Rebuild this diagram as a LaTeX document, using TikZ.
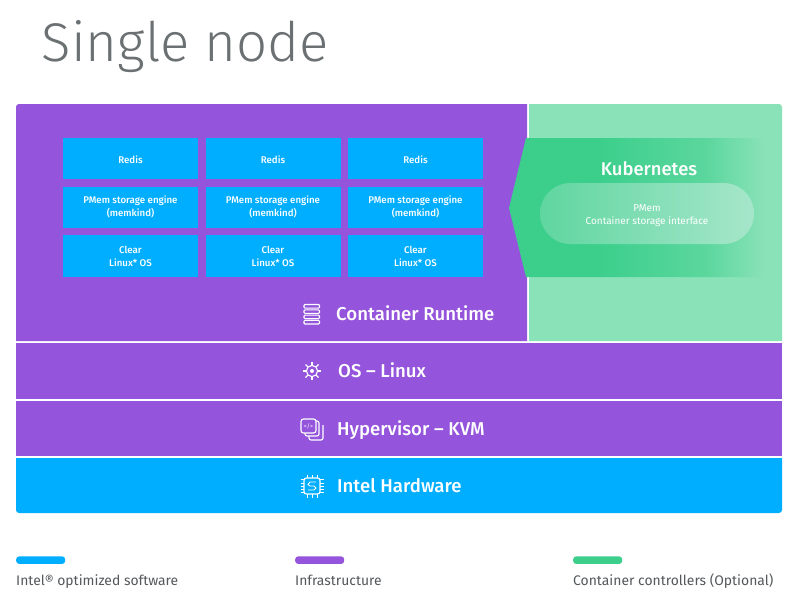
\documentclass[tikz,border=0pt]{standalone}
\usepackage{fontspec}
\setmainfont{Fira Sans}
\newfontfamily\titlefont[UprightFont=* Light]{Fira Sans}
\newfontfamily\medfont[UprightFont=* Medium]{Fira Sans}
\usetikzlibrary{calc}
\definecolor{purp}{HTML}{9454DB}
\definecolor{blu}{HTML}{00AEFF}
\definecolor{grn}{HTML}{3CCF8C}
\definecolor{lgrn}{HTML}{8AE2B8}
\definecolor{ptl}{HTML}{5FD6A0}
\definecolor{ptr}{HTML}{A6E6CA}
\definecolor{inkgrey}{HTML}{55595C}
\definecolor{titlegrey}{HTML}{6B7073}
\pgfdeclarehorizontalshading{arrowfade}{100bp}{color(0bp)=(grn); color(25bp)=(grn); color(42bp)=(grn); color(62bp)=(grn!60!lgrn); color(73bp)=(lgrn); color(100bp)=(lgrn)}
\pgfdeclarehorizontalshading{pillfade}{100bp}{color(0bp)=(ptl); color(25bp)=(ptl); color(75bp)=(ptr); color(100bp)=(ptr)}
\tikzset{
  appbox/.style={fill=blu,text=white,minimum width=135pt,minimum height=41.5pt,inner sep=0pt,align=center,font=\fontsize{9.7}{13}\selectfont\medfont},
  bandlabel/.style={text=white,inner sep=0pt,anchor=base west,font=\fontsize{18.6}{20}\selectfont\medfont},
  legbar/.style={rounded corners=3pt,minimum width=49pt,minimum height=7.5pt,inner sep=0pt,anchor=north west},
  legtext/.style={text=inkgrey,inner sep=0pt,anchor=base west,font=\fontsize{13.9}{15}\selectfont},
  icon/.style={draw=white,line width=1.1pt,fill=none},
}
\begin{document}
\begin{tikzpicture}[x=1pt,y=-1pt]
\useasboundingbox (0,0) rectangle (800,603);
\fill[white] (0,0) rectangle (800,603);
\node[inner sep=0pt,anchor=base west,text=titlegrey,font=\fontsize{54.5}{60}\selectfont\titlefont] (title) at (41.5,61) {Single node};
% bands
\fill[purp] (527,341) -- (16,341) [rounded corners=3pt] -- (16,104) [sharp corners] -- (527,104) -- cycle;
\fill[lgrn] (529,341) -- (529,104) [rounded corners=3pt] -- (782,104) [sharp corners] -- (782,341) -- cycle;
\fill[purp] (16,343) rectangle (782,399);
\fill[purp] (16,401) rectangle (782,456);
\fill[blu] (16,458) -- (782,458) [rounded corners=3pt] -- (782,513) -- (16,513) [sharp corners] -- cycle;
% app boxes
\foreach \c/\x in {a/130.5,b/273,c/415.5}{
  \node[appbox] (redis\c) at (\x,158.7) {\raisebox{-1.5pt}[7pt][0pt]{Redis}};
  \node[appbox] (pmem\c) at (\x,207.3) {PMem storage engine\\(memkind)};
  \node[appbox] (clear\c) at (\x,256) {Clear\\Linux* OS};
}
% Kubernetes arrow
\shade[shading=arrowfade] (509,208) -- (526,138) -- (775,138) -- (775,277) -- (526,277) -- cycle;
\shade[shading=pillfade,rounded corners=30.5pt] (540,183) rectangle (754,244);
\node[text=white,inner sep=0pt,font=\fontsize{18.4}{20}\selectfont\medfont] (kube) at (649,169) {Kubernetes};
\node[text=white,inner sep=0pt,align=center,font=\fontsize{10}{13}\selectfont] (csi) at (647,215.5) {PMem\\Container storage interface};
% band labels
\node[bandlabel] (runtime) at (336,320.3) {Container Runtime};
\node[bandlabel] (oslinux) at (338,377.8) {OS – Linux};
\node[bandlabel] (hyper) at (337,435) {Hypervisor – KVM};
\node[bandlabel] (hw) at (337,492.5) {Intel Hardware};
% runtime icon
\foreach \y in {304.5,309.8,315.1,320.4}{
  \draw[icon,rounded corners=1pt] (304,\y) rectangle (319.5,\y+3.6);
}
% gear icon
\draw[icon] (312,371) circle[radius=5.6];
\fill[white] (312,371) circle[radius=2];
\foreach \a in {0,45,...,315}{
  \draw[icon] ($(312,371)+(\a:5.6)$) -- ($(312,371)+(\a:9.2)$);
}
% hypervisor icon
\draw[icon,rounded corners=2pt] (309,424) -- (309,440) -- (323,440) -- (323,425);
\draw[icon,rounded corners=2pt,fill=purp] (305,421) rectangle (319,436);
\draw[icon,rounded corners=2.5pt,fill=purp] (301,419) rectangle (316,433);
\node[text=white,inner sep=0pt,font=\fontsize{6}{6}\selectfont] (code) at (308.5,426) {</>};
% chip icon
\draw[icon,rounded corners=2.5pt] (304,478) rectangle (320,494);
\foreach \t in {479.5,483,486,489,492.5}{
  \draw[icon,line width=.9pt] (300.5,\t) -- (304,\t);
  \draw[icon,line width=.9pt] (320,\t) -- (323.5,\t);
}
\foreach \t in {307,312,317}{
  \draw[icon,line width=.9pt] (\t,474.5) -- (\t,478);
  \draw[icon,line width=.9pt] (\t,494) -- (\t,497.5);
}
\draw[icon,line width=.9pt] (316,482) -- (310,482) -- (308,484.5) -- (310,486) -- (314,486) -- (316,488) -- (314,490) -- (308,490);
% legend
\node[legbar,fill=blu] (lega) at (16,556.2) {};
\node[legbar,fill=purp] (legb) at (295,556.2) {};
\node[legbar,fill=grn] (legc) at (573,556.2) {};
\node[legtext] (ta) at (16,585) {Intel® optimized software};
\node[legtext] (tb) at (295,585) {Infrastructure};
\node[legtext] (tc) at (573,585) {Container controllers (Optional)};
\end{tikzpicture}
\end{document}
